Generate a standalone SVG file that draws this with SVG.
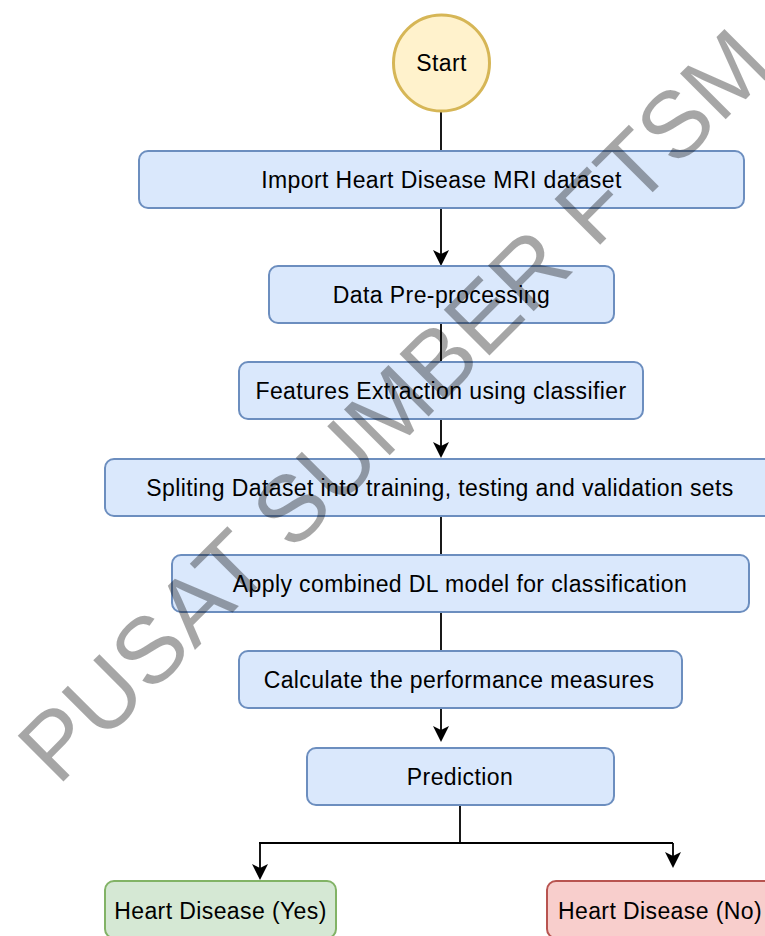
<svg xmlns="http://www.w3.org/2000/svg" width="765" height="936" viewBox="0 0 765 936">
<style>
.box{fill:#dae8fc;stroke:#6c8ebf;stroke-width:2}
.yes{fill:#d5e8d4;stroke:#82b366;stroke-width:2}
.no{fill:#f8cecc;stroke:#b85450;stroke-width:2}
.start{fill:#fff2cc;stroke:#d6b656;stroke-width:3}
.lbl{font-family:"Liberation Sans",Arial,sans-serif;font-size:23px;letter-spacing:0.4px;fill:#000;text-anchor:middle}
.edge{fill:none;stroke:#000;stroke-width:1.8}
.head{fill:#000}
.wm{font-family:"Liberation Sans",Arial,sans-serif;font-size:94px;fill:#000;fill-opacity:0.35}
</style>
<rect width="765" height="936" fill="#fff"/>
<g id="connectors">
<path class="edge" d="M441,112 V151"/>
<path class="edge" d="M441,208 V256"/>
<path class="head" d="M441,266 L433,250 L441,254 L449,250 Z"/>
<path class="edge" d="M441,323 V362"/>
<path class="edge" d="M441,419 V449"/>
<path class="head" d="M441,458 L433,442 L441,446 L449,442 Z"/>
<path class="edge" d="M441,516 V555"/>
<path class="edge" d="M441,612 V651"/>
<path class="edge" d="M441,708 V734"/>
<path class="head" d="M441,742 L433,726 L441,730 L449,726 Z"/>
<path class="edge" d="M460,805 V843 M259,843 H673 M260,843 V872 M673,843 V860"/>
<path class="head" d="M260,880 L252,864 L260,868 L268,864 Z"/>
<path class="head" d="M673,868 L665,852 L673,856 L681,852 Z"/>
</g>
<g id="start"><circle class="start" cx="441.5" cy="63" r="48"/><text class="lbl" x="441.5" y="71">Start</text></g>
<g id="import"><rect class="box" x="139" y="151" width="605" height="57" rx="9"/><text class="lbl" x="441.5" y="188">Import Heart Disease MRI dataset</text></g>
<g id="preprocess"><rect class="box" x="269" y="266" width="345" height="57" rx="9"/><text class="lbl" x="441.5" y="303">Data Pre-processing</text></g>
<g id="features"><rect class="box" x="239" y="362" width="404" height="57" rx="9"/><text class="lbl" x="441" y="399">Features Extraction using classifier</text></g>
<g id="split"><rect class="box" x="105" y="459" width="672" height="57" rx="9"/><text class="lbl" x="440" y="496">Spliting Dataset into training, testing and validation sets</text></g>
<g id="apply"><rect class="box" x="172" y="555" width="577" height="57" rx="9"/><text class="lbl" x="460" y="592">Apply combined DL model for classification</text></g>
<g id="calculate"><rect class="box" x="239" y="651" width="443" height="57" rx="9"/><text class="lbl" x="459" y="688">Calculate the performance measures</text></g>
<g id="prediction"><rect class="box" x="307" y="748" width="307" height="57" rx="9"/><text class="lbl" x="460" y="785">Prediction</text></g>
<g id="yes"><rect class="yes" x="105" y="881" width="231" height="57" rx="9"/><text class="lbl" x="220.5" y="918.5">Heart Disease (Yes)</text></g>
<g id="no"><rect class="no" x="547" y="881" width="231" height="57" rx="9"/><text class="lbl" x="660" y="918.5">Heart Disease (No)</text></g>
<text class="wm" transform="translate(58,787) rotate(-45)">PUSAT SUMBER FTSM</text>
</svg>
